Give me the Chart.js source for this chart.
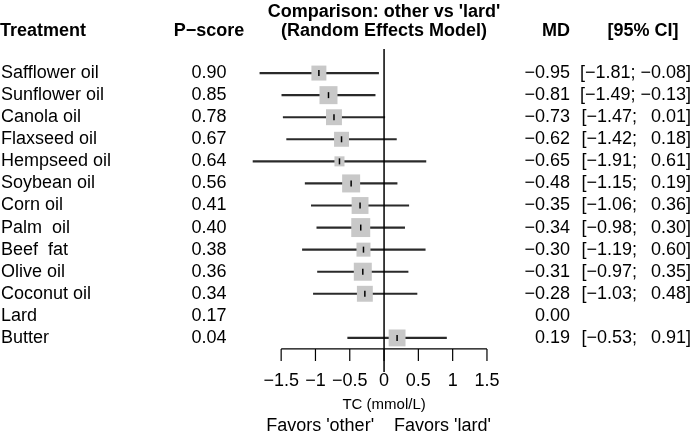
<!DOCTYPE html>
<html>
<head>
<meta charset="utf-8">
<script src="https://cdn.jsdelivr.net/npm/chart.js@4.4.1/dist/chart.umd.min.js"></script>
<style>
  body { margin: 0; background: #fff; }
  #wrap { width: 692px; height: 434px; }
</style>
</head>
<body>
<div id="wrap"><canvas id="forestChart" width="692" height="434"></canvas></div>
<script>
// datos del forest plot (comparación contra 'lard')
const treatments = ['Safflower oil', 'Sunflower oil', 'Canola oil', 'Flaxseed oil', 'Hempseed oil', 'Soybean oil',
    'Corn oil', 'Palm  oil', 'Beef  fat', 'Olive oil', 'Coconut oil', 'Lard', 'Butter'];
const pScores = [0.90, 0.85, 0.78, 0.67, 0.64, 0.56, 0.41, 0.40, 0.38, 0.36, 0.34, 0.17, 0.04];
const md = [-0.95, -0.81, -0.73, -0.62, -0.65, -0.48, -0.35, -0.34, -0.30, -0.31, -0.28, 0.00, 0.19];
const lower = [-1.81, -1.49, -1.47, -1.42, -1.91, -1.15, -1.06, -0.98, -1.19, -0.97, -1.03, null, -0.53];
const upper = [-0.08, -0.13, 0.01, 0.18, 0.61, 0.19, 0.36, 0.30, 0.60, 0.35, 0.48, null, 0.91];
const weights = [0.79, 0.95, 0.84, 0.79, 0.53, 0.95, 0.89, 1.0, 0.74, 0.95, 0.84, null, 0.89]; // tamaño relativo del cuadro
const xTicks = [-1.5, -1, -0.5, 0, 0.5, 1, 1.5];

const FONT = '"Liberation Sans", Arial, sans-serif';
const minus = s => s.replace('-', '\u2212');
const fmt2 = v => minus(v.toFixed(2));

const rows = treatments.map((t, i) => i).filter(i => lower[i] !== null);

const textPlugin = {
    id: 'forestText',
    afterDatasetsDraw(chart) {
        const ctx = chart.ctx;
        const xs = chart.scales.x, ys = chart.scales.y;
        const x0 = xs.getPixelForValue(0);
        ctx.save();

        // línea de referencia en 0
        ctx.strokeStyle = '#000';
        ctx.lineWidth = 1.5;
        ctx.beginPath();
        ctx.moveTo(x0, 49);
        ctx.lineTo(x0, 372);
        ctx.stroke();

        // eje x
        const yAxis = ys.getPixelForValue(12.5);
        ctx.lineWidth = 1.2;
        ctx.beginPath();
        ctx.moveTo(xs.getPixelForValue(xTicks[0]), yAxis);
        ctx.lineTo(xs.getPixelForValue(xTicks[xTicks.length - 1]), yAxis);
        xTicks.forEach(v => {
            const px = xs.getPixelForValue(v);
            ctx.moveTo(px, yAxis);
            ctx.lineTo(px, yAxis + 12);
        });
        ctx.stroke();

        ctx.fillStyle = '#000';
        ctx.textBaseline = 'middle';
        ctx.font = '18px ' + FONT;
        ctx.textAlign = 'center';
        xTicks.forEach(v => ctx.fillText(minus(String(v)), xs.getPixelForValue(v), 381));
        ctx.font = '15px ' + FONT;
        ctx.fillText('TC (mmol/L)', x0, 405);
        ctx.font = '18px ' + FONT;
        ctx.textAlign = 'right';
        ctx.fillText("Favors 'other'", x0 - 10, 426);
        ctx.textAlign = 'left';
        ctx.fillText("Favors 'lard'", x0 + 10, 426);

        // encabezados
        ctx.font = 'bold 18px ' + FONT;
        ctx.textAlign = 'center';
        ctx.fillText("Comparison: other vs 'lard'", x0, 12);
        ctx.fillText('(Random Effects Model)', x0, 31);
        ctx.textAlign = 'left';
        ctx.fillText('Treatment', 0, 31);
        ctx.textAlign = 'center';
        ctx.fillText('P\u2212score', 209, 31);
        ctx.textAlign = 'right';
        ctx.fillText('MD', 570, 31);
        ctx.textAlign = 'center';
        ctx.fillText('[95% CI]', 643, 31);

        // columnas de texto
        ctx.font = '18px ' + FONT;
        treatments.forEach((t, i) => {
            const py = ys.getPixelForValue(i);
            ctx.textAlign = 'left';
            ctx.fillText(t, 1, py);
            ctx.textAlign = 'center';
            ctx.fillText(pScores[i].toFixed(2), 209, py);
            ctx.textAlign = 'right';
            ctx.fillText(fmt2(md[i]), 570, py);
            if (lower[i] !== null) {
                const hi = upper[i] < 0 ? fmt2(upper[i]) : '\u2002' + fmt2(upper[i]);
                ctx.fillText('[' + fmt2(lower[i]) + '; ' + hi + ']', 691, py);
            }
        });
        ctx.restore();
    }
};

const ctxForest = document.getElementById('forestChart').getContext('2d');
const forestChart = new Chart(ctxForest, {
    data: {
        datasets: [{
            type: 'bar',
            label: 'IC 95%',
            indexAxis: 'y',
            data: rows.map(i => ({ y: i, x: [lower[i], upper[i]] })),
            backgroundColor: '#2a2a2a',
            borderWidth: 0,
            barThickness: 1.5,
            order: 3
        }, {
            type: 'scatter',
            label: 'Peso',
            data: rows.map(i => ({ x: md[i], y: i })),
            pointStyle: 'rect',
            pointRadius: rows.map(i => weights[i] * 13.4),
            backgroundColor: '#c8c8c8',
            borderWidth: 0,
            order: 2
        }, {
            type: 'scatter',
            label: 'MD',
            data: rows.map(i => ({ x: md[i], y: i })),
            pointStyle: 'line',
            rotation: 90,
            pointRadius: 3,
            borderColor: '#000',
            borderWidth: 1.5,
            order: 1
        }]
    },
    options: {
        responsive: false,
        animation: false,
        events: [],
        layout: { padding: { left: 240, right: 192, top: 51, bottom: 74 } },
        plugins: {
            legend: { display: false },
            tooltip: { enabled: false }
        },
        scales: {
            x: { type: 'linear', min: -2.1, max: 1.69, offset: false, display: false },
            y: { type: 'linear', min: -1, max: 13, reverse: true, offset: false, display: false }
        }
    },
    plugins: [textPlugin]
});
</script>
</body>
</html>
